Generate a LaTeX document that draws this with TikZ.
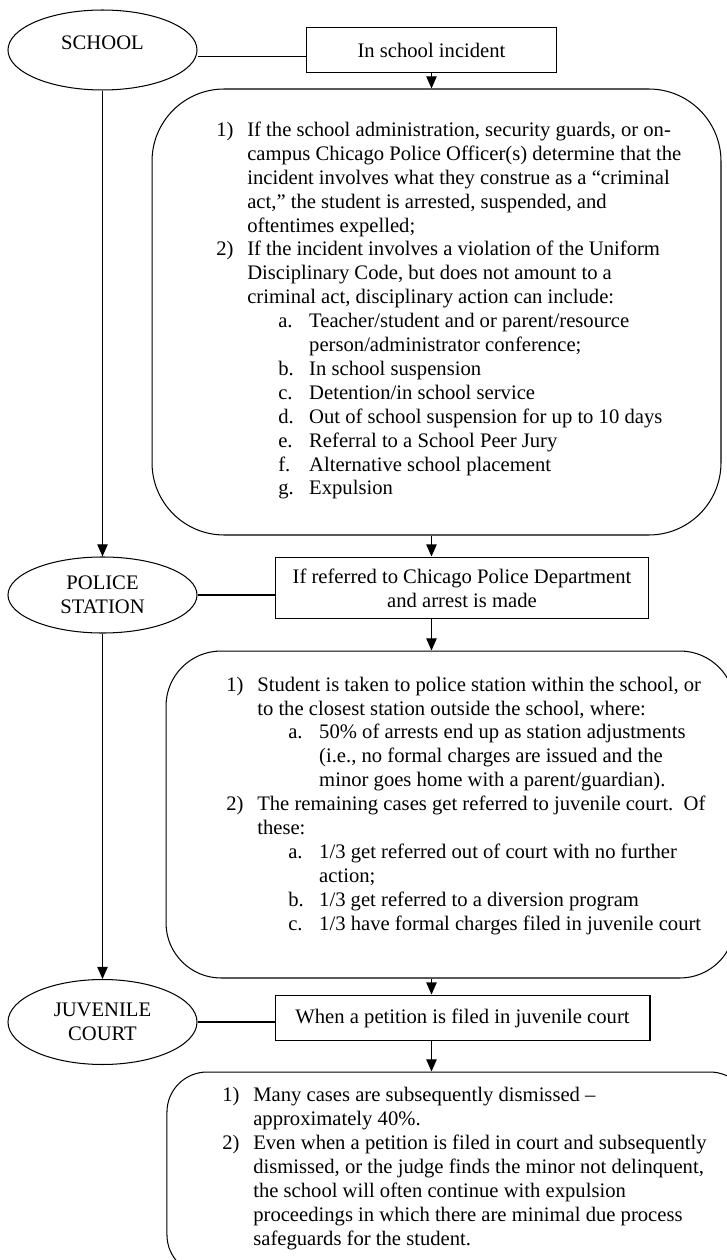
\documentclass[tikz,border=0pt]{standalone}
\usepackage{fontspec}
\setmainfont{Liberation Serif}
\usetikzlibrary{shapes.geometric,arrows.meta}

\tikzset{
	place/.style={ellipse, draw, line width=0.6pt, minimum width=109.9pt, inner sep=0pt, align=center},
	stagebox/.style={rectangle, draw, line width=0.6pt, inner sep=0pt, align=center},
	stepsbox/.style={rectangle, draw, line width=0.6pt, inner sep=0pt},
	stepstext/.style={anchor=north west, inner sep=0pt, align=left},
	flow/.style={line width=0.6pt, -{Triangle[width=6pt,length=7pt]}},
	link/.style={line width=0.6pt}
}
\newcommand{\lbl}[1]{\makebox[18pt][l]{#1}}

\begin{document}
\begin{tikzpicture}[x=0.5814pt, y=-0.5814pt, font=\fontsize{12}{13.9}\selectfont]
	\useasboundingbox (0,0) rectangle (727,1260);

	% places on the left
	\node[place, minimum height=46.5pt, text depth=9pt] (school) at (102.5,50) {SCHOOL};
	\node[place, minimum height=44.2pt] (police) at (102.5,595) {POLICE\\STATION};
	\node[place, minimum height=49.4pt] (juvenile) at (102.5,1022) {JUVENILE\\COURT};

	% what happens at each place
	\node[stagebox, minimum width=145.9pt, minimum height=26.7pt] (incident) at (431.5,50) {In school incident};
	\node[stagebox, minimum width=217.4pt, minimum height=36pt] (arrest) at (462,588) {If referred to Chicago Police Department\\and arrest is made};
	\node[stagebox, minimum width=218pt, minimum height=26.7pt] (petition) at (462.5,1018) {When a petition is filed in juvenile court};

	\node[stepsbox, rounded corners=42pt, minimum width=330.8pt, minimum height=259.3pt] (schoolsteps) at (436.5,312) {};
	\node[stepsbox, rounded corners=32pt, minimum width=330.8pt, minimum height=190.1pt] (policesteps) at (450.5,814.5) {};
	\node[stepsbox, rounded corners=23.3pt, minimum width=339pt, minimum height=118pt] (courtsteps) at (458.5,1173.5) {};

	\node[stepstext] (schooltext) at (216,121.5) {%
		\lbl{1)}If the school administration, security guards, or on-\\
		\hspace*{18pt}campus Chicago Police Officer(s) determine that the\\
		\hspace*{18pt}incident involves what they construe as a “criminal\\
		\hspace*{18pt}act,” the student is arrested, suspended, and\\
		\hspace*{18pt}oftentimes expelled;\\
		\lbl{2)}If the incident involves a violation of the Uniform\\
		\hspace*{18pt}Disciplinary Code, but does not amount to a\\
		\hspace*{18pt}criminal act, disciplinary action can include:\\
		\hspace*{36pt}\lbl{a.}Teacher/student and or parent/resource\\
		\hspace*{54pt}person/administrator conference;\\
		\hspace*{36pt}\lbl{b.}In school suspension\\
		\hspace*{36pt}\lbl{c.}Detention/in school service\\
		\hspace*{36pt}\lbl{d.}Out of school suspension for up to 10 days\\
		\hspace*{36pt}\lbl{e.}Referral to a School Peer Jury\\
		\hspace*{36pt}\lbl{f.}Alternative school placement\\
		\hspace*{36pt}\lbl{g.}Expulsion};

	\node[stepstext] (policetext) at (226,676.5) {%
		\lbl{1)}Student is taken to police station within the school, or\\
		\hspace*{18pt}to the closest station outside the school, where:\\
		\hspace*{36pt}\lbl{a.}50\% of arrests end up as station adjustments\\
		\hspace*{54pt}(i.e., no formal charges are issued and the\\
		\hspace*{54pt}minor goes home with a parent/guardian).\\
		\lbl{2)}The remaining cases get referred to juvenile court.\ \ Of\\
		\hspace*{18pt}these:\\
		\hspace*{36pt}\lbl{a.}1/3 get referred out of court with no further\\
		\hspace*{54pt}action;\\
		\hspace*{36pt}\lbl{b.}1/3 get referred to a diversion program\\
		\hspace*{36pt}\lbl{c.}1/3 have formal charges filed in juvenile court};

	\node[stepstext] (courttext) at (222,1087) {%
		\lbl{1)}Many cases are subsequently dismissed –\\
		\hspace*{18pt}approximately 40\%.\\
		\lbl{2)}Even when a petition is filed in court and subsequently\\
		\hspace*{18pt}dismissed, or the judge finds the minor not delinquent,\\
		\hspace*{18pt}the school will often continue with expulsion\\
		\hspace*{18pt}proceedings in which there are minimal due process\\
		\hspace*{18pt}safeguards for the student.};

	% connectors
	\draw[link] ([yshift=-4pt]school.east) -- ([yshift=-4pt]school.east -| incident.west);
	\draw[link] (police.east) -- (police.east -| arrest.west);
	\draw[link] (juvenile.east) -- (juvenile.east -| petition.west);
	\draw[flow] (school.south) -- (police.north);
	\draw[flow] (police.south) -- (juvenile.north);
	\draw[flow] (incident.south) -- (incident.south |- schoolsteps.north);
	\draw[flow] (schoolsteps.south -| incident.south) -- (arrest.north -| incident.south);
	\draw[flow] (arrest.south -| incident.south) -- (policesteps.north -| incident.south);
	\draw[flow] (policesteps.south -| incident.south) -- (petition.north -| incident.south);
	\draw[flow] (petition.south -| incident.south) -- (courtsteps.north -| incident.south);
\end{tikzpicture}
\end{document}
